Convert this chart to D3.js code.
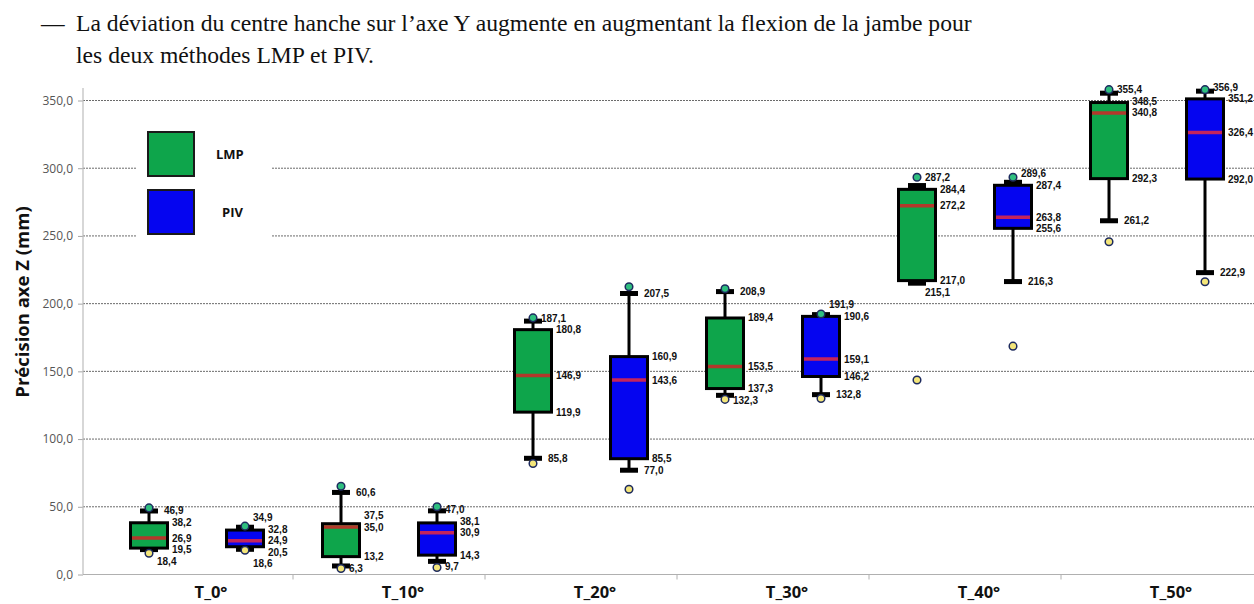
<!DOCTYPE html>
<html>
<head>
<meta charset="utf-8">
<script src="https://cdn.jsdelivr.net/npm/d3@7"></script>
<style>
  body { margin: 0; background: #fff; }
  svg { display: block; }
</style>
</head>
<body>
<svg id="chart" width="1254" height="604"></svg>
<script>
// ---- data -------------------------------------------------------------
const categories = ["T_0°", "T_10°", "T_20°", "T_30°", "T_40°", "T_50°"];
const methods = ["LMP", "PIV"];

// LMP: whisker ends, quartiles, median and extreme points (mm)
const lmpWhiskerTop    = [46.9, 60.6, 187.1, 208.9, 287.2, 355.4];
const lmpQ3            = [38.2, 37.5, 180.8, 189.4, 284.4, 348.5];
const lmpMedian        = [26.9, 35.0, 146.9, 153.5, 272.2, 340.8];
const lmpQ1            = [19.5, 13.2, 119.9, 137.3, 217.0, 292.3];
const lmpWhiskerBottom = [18.4, 6.3, 85.8, 132.3, 215.1, 261.2];
const lmpMaxPoint      = [49.2, 65.2, 189.5, 211.0, 293.3, 358.0];
const lmpMinPoint      = [15.7, 4.4, 82.0, 129.3, 143.6, 245.7];

// PIV: whisker ends, quartiles, median and extreme points (mm)
const pivWhiskerTop    = [34.9, 47.0, 207.5, 191.9, 289.6, 356.9];
const pivQ3            = [32.8, 38.1, 160.9, 190.6, 287.4, 351.2];
const pivMedian        = [24.9, 30.9, 143.6, 159.1, 263.8, 326.4];
const pivQ1            = [20.5, 14.3, 85.5, 146.2, 255.6, 292.0];
const pivWhiskerBottom = [18.6, 9.7, 77.0, 132.8, 216.3, 222.9];
const pivMaxPoint      = [35.7, 50.0, 212.5, 192.3, 293.3, 358.0];
const pivMinPoint      = [17.9, 5.2, 63.0, 130.0, 168.6, 216.2];

const yTickValues = [0, 50, 100, 150, 200, 250, 300, 350];
const titleLines = [
  "La déviation du centre hanche sur l’axe Y augmente en augmentant la flexion de la jambe pour",
  "les deux méthodes LMP et PIV."
];
const yAxisTitle = "Précision axe Z (mm)";

// ---- styling ------------------------------------------------------------
const fill = { LMP: "#0ea54b", PIV: "#0505f0" };
const medianColor = { LMP: "#b3392b", PIV: "#c4245c" };
const labelFont = "'Open Sans', 'Noto Sans', sans-serif";
const valueFont = "'Liberation Sans Narrow', 'Liberation Sans', Arial, sans-serif";

const frLocale = d3.formatLocale({ decimal: ",", thousands: " ", grouping: [3], currency: ["", " €"] });
const fmt = frLocale.format(".1f");

const svg = d3.select("#chart");

// ---- scales -------------------------------------------------------------
const x0 = d3.scaleBand().domain(categories).range([101, 1253]);
const x1 = d3.scaleBand().domain(methods).range([0, x0.bandwidth()]);
const y = d3.scaleLinear().domain([0, 350]).range([574.5, 100.5]);
const plotLeft = 83, plotRight = 1254;

// ---- heading text -------------------------------------------------------
const head = svg.append("g").attr("font-family", "'Liberation Serif', 'DejaVu Serif', serif").attr("fill", "#111");
const l1 = head.append("text").attr("x", 76).attr("y", 31).attr("font-size", 20).text(titleLines[0]);
const targetWidth = 896;
const fs = 20 * targetWidth / l1.node().getComputedTextLength();
l1.attr("font-size", fs);
head.append("text").attr("x", 76).attr("y", 63).attr("font-size", fs).text(titleLines[1]);
head.append("text").attr("x", 41).attr("y", 31).attr("font-size", fs).text("—");

// ---- grid ---------------------------------------------------------------
svg.append("g")
  .selectAll("line")
  .data(yTickValues.filter(v => v > 0))
  .join("line")
  .attr("x1", plotLeft).attr("x2", plotRight)
  .attr("y1", d => y(d)).attr("y2", d => y(d))
  .attr("stroke", "#6b6b6b").attr("stroke-width", 1)
  .attr("stroke-dasharray", "2,1");

// ---- y axis -------------------------------------------------------------
const yAxis = svg.append("g")
  .attr("transform", `translate(${plotLeft},0)`)
  .call(d3.axisLeft(y).tickValues(yTickValues).tickFormat(fmt).tickSize(5).tickSizeOuter(0));
yAxis.select(".domain").remove();
yAxis.selectAll(".tick line").attr("stroke", "#a6a6a6");
yAxis.selectAll(".tick text")
  .attr("font-family", labelFont).attr("font-size", 12).attr("fill", "#555").attr("x", -10);
svg.append("line")
  .attr("x1", plotLeft).attr("x2", plotLeft).attr("y1", 88).attr("y2", y(0))
  .attr("stroke", "#bdbdbd").attr("stroke-width", 1.2);

svg.append("text")
  .attr("transform", `translate(29,302) rotate(-90)`)
  .attr("text-anchor", "middle")
  .attr("font-family", labelFont).attr("font-weight", 700).attr("font-size", 18.5)
  .attr("fill", "#111")
  .text(yAxisTitle);

// ---- x axis -------------------------------------------------------------
svg.append("line")
  .attr("x1", plotLeft).attr("x2", plotRight).attr("y1", y(0)).attr("y2", y(0))
  .attr("stroke", "#b0b0b0").attr("stroke-width", 1.2);
svg.append("g").selectAll("line")
  .data(categories.slice(1))
  .join("line")
  .attr("x1", d => x0(d)).attr("x2", d => x0(d))
  .attr("y1", y(0)).attr("y2", y(0) + 5)
  .attr("stroke", "#b0b0b0");
svg.append("g").selectAll("text")
  .data(categories)
  .join("text")
  .attr("x", d => x0(d) + x0.bandwidth() / 2 + 14)
  .attr("y", 598)
  .attr("text-anchor", "middle")
  .attr("font-family", labelFont).attr("font-weight", 700).attr("font-size", 16.5)
  .attr("fill", "#111")
  .text(d => d);

// ---- legend -------------------------------------------------------------
const legend = svg.append("g");
legend.append("rect").attr("x", 137).attr("y", 106).attr("width", 135).attr("height", 162).attr("fill", "#fff");
methods.forEach((m, i) => {
  legend.append("rect")
    .attr("x", 148).attr("y", 132 + i * 58).attr("width", 46).attr("height", 44)
    .attr("fill", fill[m]).attr("stroke", "#1a1a1a").attr("stroke-width", 2);
  legend.append("text")
    .attr("x", i === 0 ? 216 : 222).attr("y", 154 + i * 58).attr("dy", "0.35em")
    .attr("font-family", labelFont).attr("font-weight", 700).attr("font-size", 13)
    .attr("fill", "#111")
    .text(m);
});

// ---- boxes --------------------------------------------------------------
const rows = categories.flatMap((c, i) => [
  { cat: c, m: "LMP", top: lmpWhiskerTop[i], q3: lmpQ3[i], med: lmpMedian[i], q1: lmpQ1[i],
    bottom: lmpWhiskerBottom[i], maxP: lmpMaxPoint[i], minP: lmpMinPoint[i] },
  { cat: c, m: "PIV", top: pivWhiskerTop[i], q3: pivQ3[i], med: pivMedian[i], q1: pivQ1[i],
    bottom: pivWhiskerBottom[i], maxP: pivMaxPoint[i], minP: pivMinPoint[i] }
]);

const boxW = 37, capW = 18, capH = 5;

const groups = svg.append("g").selectAll("g")
  .data(rows)
  .join("g")
  .attr("transform", d => `translate(${x0(d.cat) + x1(d.m) + x1.bandwidth() / 2},0)`);

// whiskers
groups.append("line")
  .attr("x1", 0).attr("x2", 0).attr("y1", d => y(d.top)).attr("y2", d => y(d.q3))
  .attr("stroke", "#000").attr("stroke-width", 3);
groups.append("line")
  .attr("x1", 0).attr("x2", 0).attr("y1", d => y(d.q1)).attr("y2", d => y(d.bottom))
  .attr("stroke", "#000").attr("stroke-width", 3);
// caps
groups.append("rect")
  .attr("x", -capW / 2).attr("width", capW).attr("y", d => y(d.top) - capH / 2).attr("height", capH)
  .attr("fill", "#000");
groups.append("rect")
  .attr("x", -capW / 2).attr("width", capW).attr("y", d => y(d.bottom) - capH / 2).attr("height", capH)
  .attr("fill", "#000");
// box
groups.append("rect")
  .attr("x", -boxW / 2).attr("width", boxW)
  .attr("y", d => y(d.q3)).attr("height", d => y(d.q1) - y(d.q3))
  .attr("fill", d => fill[d.m]).attr("stroke", "#000").attr("stroke-width", 3);
// median
groups.append("line")
  .attr("x1", -boxW / 2 + 1.5).attr("x2", boxW / 2 - 1.5)
  .attr("y1", d => y(d.med)).attr("y2", d => y(d.med))
  .attr("stroke", d => medianColor[d.m]).attr("stroke-width", 3.5);
// extreme points
groups.append("circle")
  .attr("cx", 0).attr("cy", d => y(d.maxP)).attr("r", 3.8)
  .attr("fill", "#2fbf7f").attr("stroke", "#1d2a5e").attr("stroke-width", 1.5);
groups.append("circle")
  .attr("cx", 0).attr("cy", d => y(d.minP)).attr("r", 3.8)
  .attr("fill", "#f4e67a").attr("stroke", "#1d2a5e").attr("stroke-width", 1.5);

// value labels, spread vertically around the median so they never overlap
const gap = 11.5;
groups.each(function (d) {
  const g = d3.select(this);
  const medY = y(d.med);
  const q3Y = Math.min(y(d.q3), medY - gap);
  const topY = Math.min(y(d.top), q3Y - gap);
  const q1Y = Math.max(y(d.q1), medY + gap);
  const botY = Math.max(y(d.bottom), q1Y + gap);
  const items = [
    { v: d.top, py: topY, cap: true, moved: Math.abs(topY - y(d.top)) > 1 },
    { v: d.q3, py: q3Y, cap: false },
    { v: d.med, py: medY, cap: false },
    { v: d.q1, py: q1Y, cap: false },
    { v: d.bottom, py: botY, cap: true, moved: Math.abs(botY - y(d.bottom)) > 1 }
  ];
  g.selectAll("text.val")
    .data(items)
    .join("text")
    .attr("class", "val")
    .attr("x", it => it.cap ? (it.moved ? 8 : 15) : boxW / 2 + 4.5)
    .attr("y", it => it.py)
    .attr("dy", "0.35em")
    .attr("font-family", valueFont).attr("font-weight", 700).attr("font-size", 10)
    .attr("fill", "#111")
    .text(it => fmt(it.v));
});
</script>
</body>
</html>
